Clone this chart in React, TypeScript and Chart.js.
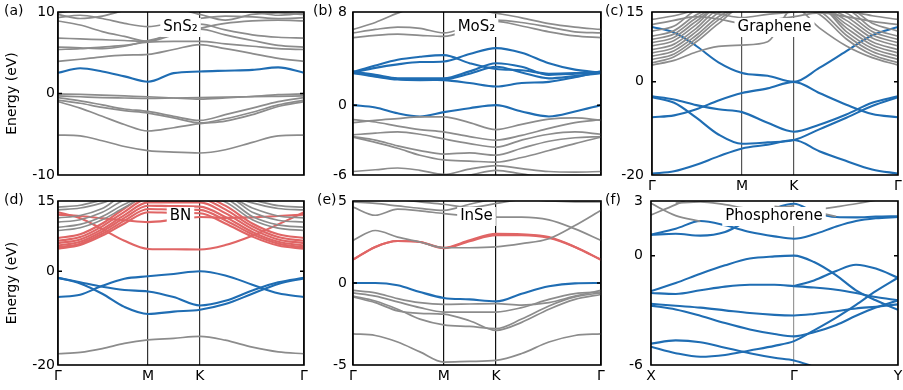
import React, { useEffect, useRef } from "react";
import { Chart, registerables } from "chart.js";

Chart.register(...registerables);

type Band = (number | null)[];

// ---------- k-paths ----------
const K_HEX = [0, 0.09, 0.18, 0.27, 0.366, 0.47, 0.577, 0.68, 0.79, 0.895, 1.0];
const K_HEX_TICKS = [0, 0.366, 0.577, 1];
const HEX_LABELS = ["Γ", "M", "K", "Γ"];
const K_RECT = [0, 0.1, 0.2, 0.3, 0.4, 0.5, 0.579, 0.66, 0.75, 0.83, 0.91, 1.0];
const K_RECT_TICKS = [0, 0.579, 1];
const RECT_LABELS = ["X", "Γ", "Y"];

// ---------- (a) SnS2 ----------
const SNS2_Y = [-10, 0, 10];
const SNS2_BLUE: Band[] = [[2.55, 3.1, 2.7, 2.1, 1.45, 2.5, 2.7, 2.8, 2.9, 3.2, 2.55]];
const SNS2_GRAY: Band[] = [
  [3.95, 4.2, 4.5, 4.7, 4.8, 5.4, 6.0, 5.5, 4.9, 4.3, 3.95],
  [5.4, 5.5, 5.7, 5.9, 6.3, 6.4, 6.4, 6.1, 5.8, 5.5, 5.4],
  [5.7, 5.6, 5.5, 5.8, 6.5, 7.2, 7.9, 7.2, 6.5, 5.9, 5.7],
  [6.8, 6.7, 6.6, 6.5, 6.4, 7.6, 8.5, 7.8, 7.2, 6.9, 6.8],
  [8.9, 8.4, 7.6, 7.0, 6.4, 7.2, 8.0, 8.6, 8.9, 9.0, 8.9],
  [9.3, 9.6, 9.2, 8.6, 8.2, 8.7, 9.2, 9.5, 9.4, 9.2, 9.3],
  [9.7, 9.2, 9.5, 10.2, 10.8, 10.5, 9.7, 9.0, 9.7, 9.9, 9.7],
  [9.9, 10.3, 10.6, 10.6, 10.4, 10.5, 10.3, 10.2, 10.0, 9.6, 9.9],
  [-0.05, -0.1, -0.2, -0.3, -0.4, -0.55, -0.7, -0.55, -0.35, -0.15, -0.05],
  [-0.3, -0.4, -0.5, -0.55, -0.6, -0.55, -0.5, -0.45, -0.4, -0.35, -0.3],
  [-0.5, -0.9, -1.4, -1.9, -2.2, -2.8, -3.3, -2.6, -1.8, -1.0, -0.5],
  [-0.8, -1.2, -1.7, -2.1, -2.4, -3.0, -3.6, -3.1, -2.3, -1.4, -0.8],
  [-1.0, -1.8, -2.8, -3.8, -4.6, -4.2, -3.7, -3.4, -2.6, -1.6, -1.0],
  [-5.1, -5.2, -5.8, -6.5, -7.0, -7.2, -7.3, -6.9, -6.0, -5.2, -5.1],
];

// ---------- (b) MoS2 ----------
const MOS2_Y = [-6, 0, 8];
const MOS2_BLUE: Band[] = [
  [0, -0.2, -0.7, -0.97, -0.6, -0.26, 0, -0.54, -0.97, -0.55, 0],
  [2.85, 3.4, 3.9, 4.15, 4.3, 3.6, 3.1, 3.0, 2.7, 2.75, 2.85],
  [2.8, 3.2, 3.5, 3.7, 3.75, 4.4, 4.9, 4.5, 3.6, 3.05, 2.8],
  [2.85, 2.6, 2.3, 2.3, 2.3, 2.9, 3.6, 3.3, 2.6, 2.7, 2.85],
  [2.75, 2.45, 2.2, 2.15, 2.2, 2.7, 3.3, 2.8, 2.3, 2.5, 2.75],
  [2.9, 2.5, 2.25, 2.2, 2.15, 1.9, 1.6, 1.9, 2.0, 2.4, 2.9],
];
const MOS2_GRAY: Band[] = [
  [6.5, 7.1, 7.9, 8.5, 8.5, 8.3, 7.9, 7.5, 7.0, 6.7, 6.5],
  [6.2, 6.5, 6.7, 6.6, 6.2, 6.8, 7.3, 7.1, 6.7, 6.3, 6.2],
  [5.8, 6.0, 6.1, 6.0, 5.9, 6.5, 7.2, 6.8, 6.3, 5.95, 5.8],
  [-1.5, -1.3, -1.15, -1.0, -1.0, -1.5, -2.1, -1.65, -1.2, -1.1, -1.3],
  [-1.25, -1.45, -1.8, -2.1, -2.3, -2.7, -3.0, -2.6, -2.0, -1.5, -1.25],
  [-2.55, -2.4, -2.3, -2.5, -2.9, -3.3, -3.6, -3.0, -2.5, -2.3, -2.5],
  [-2.7, -3.0, -3.5, -3.9, -4.2, -4.1, -4.3, -3.7, -3.1, -2.8, -2.7],
  [-2.75, -3.2, -3.7, -4.3, -4.7, -4.8, -4.9, -4.5, -3.9, -3.3, -2.75],
  [-5.7, -5.55, -5.4, -5.6, -5.95, -5.5, -5.2, -5.45, -5.7, -5.75, -5.7],
  [-6.3, -6.2, -6.1, -6.2, -6.3, -6.0, -5.6, -5.9, -6.2, -6.2, -6.3],
];

// ---------- (c) Graphene ----------
const GRAPHENE_Y = [-20, 0, 15];
const GRAPHENE_BLUE: Band[] = [
  [11.8, 10.6, 7.7, 4.2, 1.9, 1.3, 0, 3.0, 6.6, 10.0, 11.8],
  [-7.6, -7.2, -5.9, -4.0, -2.4, -1.4, 0, -2.4, -4.9, -6.9, -7.6],
  [-3.1, -3.8, -5.0, -5.9, -6.5, -8.8, -10.7, -9.2, -7.0, -4.5, -3.1],
  [-3.3, -4.5, -7.7, -11.3, -13.3, -13.0, -12.5, -10.2, -7.7, -5.2, -3.3],
  [-19.7, -19.2, -17.8, -16.0, -14.3, -13.5, -12.5, -14.9, -17.0, -18.8, -19.7],
];
const GRAPHENE_GRAY: Band[] = [
  [3.6, 4.6, 6.4, 7.6, 7.9, 8.6, 16, 11.6, 7.7, 5.2, 3.6],
  [4.1, 5.4, 8.6, 12.5, 16, 16, 16, 14.5, 9.2, 5.8, 4.1],
  [4.8, 6.0, 9.3, 13.3, 16, 16, 16, 15.2, 10.0, 6.5, 4.8],
  [5.5, 6.7, 10.0, 14.0, 16, 16, 16, 16, 10.8, 7.2, 5.5],
  [6.2, 7.4, 10.8, 14.8, 16, 16, 16, 16, 11.6, 7.9, 6.2],
  [6.9, 8.1, 11.5, 15.5, 16, 16, 16, 16, 12.4, 8.6, 6.9],
  [7.7, 8.9, 12.3, 16, 16, 16, 16, 16, 13.2, 9.4, 7.7],
  [8.4, 9.6, 13.0, 16, 16, 16, 16, 16, 14.0, 10.1, 8.4],
  [9.1, 10.3, 13.7, 16, 16, 16, 16, 16, 14.8, 10.8, 9.1],
  [9.8, 11.0, 14.4, 16, 16, 16, 16, 16, 15.6, 11.5, 9.8],
  [10.9, 12.0, 15.4, 16, 16, 16, 16, 16, 16, 12.6, 10.9],
  [12.3, 13.2, 14.0, 13.5, 12.6, 13.2, 14.0, 14.8, 14.0, 13.0, 12.3],
  [13.4, 14.2, 15.2, 14.6, 13.8, 14.5, 15.0, 16, 15.2, 14.2, 13.4],
];

// ---------- (d) BN ----------
const BN_Y = [-20, 0, 15];
const BN_BLUE: Band[] = [
  [-1.4, -2.35, -3.3, -4.0, -4.3, -5.5, -7.3, -6.3, -4.1, -2.35, -1.4],
  [-1.4, -2.6, -4.8, -7.6, -9.1, -8.6, -8.2, -7.0, -4.8, -2.7, -1.5],
  [-5.5, -5.0, -3.1, -1.6, -1.07, -0.57, 0, -0.9, -2.85, -4.7, -5.5],
];
const BN_RED: Band[] = [
  [4.8, 5.6, 7.6, 10.2, 12.6, 12.5, 12.4, 10.2, 7.4, 5.5, 4.8],
  [5.1, 5.9, 8.0, 10.8, 13.3, 13.2, 13.1, 10.9, 7.9, 5.9, 5.1],
  [5.5, 6.3, 8.5, 11.4, 14.0, 13.9, 13.8, 11.6, 8.4, 6.3, 5.5],
  [6.0, 6.8, 9.0, 12.0, 14.7, 14.7, 14.7, 12.4, 9.0, 6.8, 6.0],
  [6.5, 7.3, 9.6, 12.7, 15.5, 15.5, 15.5, 13.2, 9.6, 7.3, 6.5],
  [7.1, 7.9, 10.2, 13.4, 16, 16, 16, 14.0, 10.2, 7.9, 7.1],
  [12.1, 11.8, 11.3, 10.9, 10.5, 11.0, 11.6, 11.4, 11.5, 11.8, 12.1],
  [12.6, 11.3, 9.0, 6.5, 4.77, 4.7, 4.65, 5.6, 7.6, 10.0, 12.6],
];
const BN_GRAY: Band[] = [
  [8.7, 9.3, 11.0, 13.6, 16, 16, 16, 14.8, 11.0, 9.2, 8.7],
  [9.4, 10.0, 11.7, 14.3, 16, 16, 16, 15.5, 11.7, 9.9, 9.4],
  [10.5, 11.0, 12.6, 15.2, 16, 16, 16, 16, 12.6, 10.9, 10.5],
  [11.4, 11.9, 13.4, 16, 16, 16, 16, 16, 13.5, 11.8, 11.4],
  [13.1, 13.5, 14.6, 16, 16, 16, 16, 16, 14.6, 13.4, 13.1],
  [13.7, 14.1, 15.2, 16, 16, 16, 16, 16, 15.2, 14.0, 13.7],
  [-17.6, -17.3, -16.5, -15.4, -14.65, -14.3, -13.9, -14.7, -16.2, -17.2, -17.6],
];

// ---------- (e) InSe ----------
const INSE_Y = [-5, 0, 5];
const INSE_BLUE: Band[] = [[0, 0, -0.14, -0.55, -0.91, -1.0, -1.12, -0.65, -0.2, -0.02, 0]];
const INSE_RED: Band[] = [
  [1.42, 2.2, 2.56, 2.5, 2.15, 2.6, 3.0, 2.97, 2.8, 2.2, 1.42],
  [1.42, 2.2, 2.56, 2.5, 2.12, 2.55, 2.92, 2.92, 2.75, 2.2, 1.42],
];
const INSE_GRAY: Band[] = [
  [2.6, 3.2, 2.8, 2.5, 2.15, 2.15, 2.2, 2.4, 2.7, 3.5, 4.43],
  [4.63, 4.13, 4.5, 4.4, 4.23, 4.1, 4.02, 4.02, 3.85, 3.3, 2.6],
  [4.94, 4.85, 4.7, 4.55, 4.43, 4.8, 5.1, 5.1, 5.0, 4.95, 4.94],
  [5.3, 5.2, 5.1, 4.95, 4.8, 4.6, 4.85, 5.1, 5.2, 5.25, 5.3],
  [-0.45, -0.6, -0.95, -1.2, -1.3, -1.28, -1.26, -1.35, -1.2, -0.8, -0.45],
  [-0.6, -0.8, -1.15, -1.5, -1.77, -1.78, -1.77, -1.5, -1.0, -0.65, -0.55],
  [-0.8, -1.1, -1.6, -2.2, -2.55, -2.65, -2.78, -2.2, -1.4, -0.85, -0.6],
  [-0.85, -1.2, -1.7, -1.85, -1.9, -2.3, -2.89, -2.4, -1.6, -1.0, -0.7],
  [-3.1, -3.2, -3.6, -4.2, -4.82, -4.78, -4.72, -4.3, -3.6, -3.2, -3.1],
];

// ---------- (f) Phosphorene ----------
const PHOS_Y = [-6, 0, 3];
const PHOS_BLUE: Band[] = [
  [1.15, 1.48, 1.9, 1.67, 1.3, 1.06, 0.93, 1.17, 1.6, 1.9, 2.05, 2.12],
  [1.15, 1.2, 1.1, 1.3, 2.0, 2.6, 2.85, 2.4, 2.12, 2.1, 2.14, 2.16],
  [-1.94, -1.5, -0.99, -0.53, -0.16, -0.04, 0, -0.35, -1.08, -1.9, -2.45, -2.97],
  [-2.05, -2.1, -1.9, -1.7, -1.6, -1.6, -1.67, -1.75, -1.87, -2.05, -2.27, -2.45],
  [null, null, null, null, null, null, -1.67, -1.36, -0.84, -0.5, -0.71, -1.21],
  [-2.64, -2.75, -2.85, -3.0, -3.15, -3.25, -3.28, -3.2, -3.05, -2.9, -2.8, -2.67],
  [-2.74, -2.95, -3.3, -3.7, -4.05, -4.3, -4.43, -4.2, -3.8, -3.3, -2.85, -2.45],
  [-4.83, -4.65, -4.75, -5.05, -5.35, -5.6, -5.75, -6.1, null, null, null, null],
  [-5.0, -5.35, -5.55, -5.45, -5.2, -4.95, -4.69, -4.1, -3.4, -2.7, -1.95, -1.21],
];
const PHOS_GRAY: Band[] = [
  [2.23, 2.8, 3.4, null, null, null, null, null, null, null, null, null],
  [2.87, 2.2, 1.88, null, null, null, null, null, null, null, null, null],
  [null, 2.88, 2.95, 2.8, 2.6, 2.6, 2.75, null, null, null, null, null],
  [null, null, null, null, null, 2.7, 2.6, 2.42, 2.15, null, null, null],
  [null, null, null, null, null, 2.3, 2.35, 2.5, 2.68, 2.85, 3.05, 3.3],
];

// ---------- styling ----------
const FONT = "'DejaVu Sans', sans-serif";
const BLUE = "#1f6db3";
const RED = "#e06565";
const GRAY = "#8c8c8c";

Chart.defaults.font.family = FONT;

interface PanelSpec {
  tag: string;
  name: string;
  ks: number[];
  kTicks: number[];
  kLabels: string[];
  yTicks: number[];
  gray: Band[];
  red: Band[];
  blue: Band[];
  showX: boolean;
  yTitle: boolean;
  vColor: string;
  left: number;
  top: number;
  width: number;
  height: number;
  axisW: number;
  padR: number;
  tickPad: number;
  tagX: number;
}

const PANELS: PanelSpec[] = [
  { tag: "(a)", name: "SnS\u2082", ks: K_HEX, kTicks: K_HEX_TICKS, kLabels: HEX_LABELS, yTicks: SNS2_Y,
    gray: SNS2_GRAY, red: [], blue: SNS2_BLUE, showX: false, yTitle: true, vColor: "#222",
    left: 0, top: 0, width: 310, height: 200, axisW: 58, padR: 6, tickPad: 3, tagX: 4 },
  { tag: "(b)", name: "MoS\u2082", ks: K_HEX, kTicks: K_HEX_TICKS, kLabels: HEX_LABELS, yTicks: MOS2_Y,
    gray: MOS2_GRAY, red: [], blue: MOS2_BLUE, showX: false, yTitle: false, vColor: "#111",
    left: 303, top: 0, width: 305, height: 200, axisW: 50, padR: 7, tickPad: 6, tagX: 10 },
  { tag: "(c)", name: "Graphene", ks: K_HEX, kTicks: K_HEX_TICKS, kLabels: HEX_LABELS, yTicks: GRAPHENE_Y,
    gray: GRAPHENE_GRAY, red: [], blue: GRAPHENE_BLUE, showX: true, yTitle: false, vColor: "#555",
    left: 600, top: 0, width: 303, height: 200, axisW: 52, padR: 5, tickPad: 8, tagX: 5 },
  { tag: "(d)", name: "BN", ks: K_HEX, kTicks: K_HEX_TICKS, kLabels: HEX_LABELS, yTicks: BN_Y,
    gray: BN_GRAY, red: BN_RED, blue: BN_BLUE, showX: true, yTitle: true, vColor: "#333",
    left: 0, top: 189, width: 310, height: 201, axisW: 58, padR: 6, tickPad: 3, tagX: 4 },
  { tag: "(e)", name: "InSe", ks: K_HEX, kTicks: K_HEX_TICKS, kLabels: HEX_LABELS, yTicks: INSE_Y,
    gray: INSE_GRAY, red: INSE_RED, blue: INSE_BLUE, showX: true, yTitle: false, vColor: "#111",
    left: 303, top: 189, width: 305, height: 201, axisW: 50, padR: 7, tickPad: 6, tagX: 14 },
  { tag: "(f)", name: "Phosphorene", ks: K_RECT, kTicks: K_RECT_TICKS, kLabels: RECT_LABELS, yTicks: PHOS_Y,
    gray: PHOS_GRAY, red: [], blue: PHOS_BLUE, showX: true, yTitle: false, vColor: "#999",
    left: 600, top: 189, width: 303, height: 201, axisW: 51, padR: 5, tickPad: 8, tagX: 5 },
];

function PanelChart({ p }: { p: PanelSpec }) {
  const ref = useRef<HTMLCanvasElement>(null);

  useEffect(() => {
    const datasets: any[] = [];
    const add = (bands: Band[], color: string, width: number) => {
      bands.forEach((b) => {
        datasets.push({
          data: p.ks.map((x, i) => ({ x, y: b[i] })),
          borderColor: color,
          borderWidth: width,
          pointRadius: 0,
          fill: false,
          tension: 0.4,
          cubicInterpolationMode: "monotone",
          spanGaps: false,
        });
      });
    };
    add(p.gray, GRAY, 1.7);
    add(p.red, RED, 2.1);
    add(p.blue, BLUE, 2.1);

    const deco = {
      id: "deco",
      afterDatasetsDraw(chart: any) {
        const { ctx, chartArea: a } = chart;
        const ys = chart.scales.y;
        ctx.save();
        // material label with white box
        ctx.font = `15px ${FONT}`;
        const tw = ctx.measureText(p.name).width;
        const cx = a.left + 0.498 * (a.right - a.left);
        const cy = a.top + 15.5;
        ctx.fillStyle = "#fff";
        ctx.fillRect(cx - tw / 2 - 3, a.top + 6, tw + 6, 19);
        ctx.fillStyle = "#000";
        ctx.textAlign = "center";
        ctx.textBaseline = "middle";
        ctx.fillText(p.name, cx, cy);
        // inward ticks at zero
        const y0 = ys.getPixelForValue(0);
        ctx.strokeStyle = "#000";
        ctx.lineWidth = 1.5;
        ctx.beginPath();
        ctx.moveTo(a.left, y0);
        ctx.lineTo(a.left + 4, y0);
        ctx.moveTo(a.right, y0);
        ctx.lineTo(a.right - 4, y0);
        ctx.stroke();
        // frame
        ctx.lineWidth = 1.6;
        ctx.strokeRect(a.left, a.top, a.right - a.left, a.bottom - a.top);
        // panel tag
        ctx.font = `14px ${FONT}`;
        ctx.textAlign = "left";
        ctx.textBaseline = "middle";
        ctx.fillText(p.tag, p.tagX, a.top - 0.5);
        ctx.restore();
      },
    };

    const chart = new Chart(ref.current as HTMLCanvasElement, {
      type: "line",
      data: { datasets },
      options: {
        animation: false,
        responsive: false,
        maintainAspectRatio: false,
        events: [],
        layout: { padding: { top: 12, right: p.padR, left: 0, bottom: 0 } },
        plugins: { legend: { display: false }, tooltip: { enabled: false } },
        scales: {
          x: {
            type: "linear",
            min: 0,
            max: 1,
            afterBuildTicks: (s: any) => {
              s.ticks = p.kTicks.map((v) => ({ value: v }));
            },
            afterFit: (s: any) => {
              s.height = 25;
              s.paddingLeft = 0;
              s.paddingRight = 0;
            },
            ticks: {
              display: p.showX,
              autoSkip: false,
              maxRotation: 0,
              padding: 3,
              color: "#000",
              font: { family: FONT, size: 14 },
              callback: (_v: any, i: number) => p.kLabels[i],
            },
            grid: { color: p.vColor, lineWidth: 1.2, drawTicks: false },
            border: { display: false },
          },
          y: {
            type: "linear",
            min: p.yTicks[0],
            max: p.yTicks[p.yTicks.length - 1],
            afterBuildTicks: (s: any) => {
              s.ticks = p.yTicks.map((v) => ({ value: v }));
            },
            afterFit: (s: any) => {
              s.width = p.axisW;
              s.paddingTop = 0;
              s.paddingBottom = 0;
            },
            ticks: {
              autoSkip: false,
              padding: p.tickPad,
              color: "#000",
              font: { family: FONT, size: 14 },
              callback: (v: any) => String(v),
            },
            grid: { display: false, drawTicks: false },
            border: { display: false },
            title: {
              display: p.yTitle,
              text: "Energy (eV)",
              color: "#000",
              font: { family: FONT, size: 14 },
              padding: { top: 4, bottom: 0 },
            },
          },
        },
      } as any,
      plugins: [deco],
    });
    return () => chart.destroy();
  }, [p]);

  return (
    <canvas
      ref={ref}
      width={p.width}
      height={p.height}
      style={{ position: "absolute", left: p.left, top: p.top, width: p.width, height: p.height, display: "block" }}
    />
  );
}

export default function App() {
  return (
    <div style={{ position: "absolute", left: 0, top: 0, width: 903, height: 390, background: "#fff" }}>
      {PANELS.map((p) => (
        <PanelChart key={p.tag} p={p} />
      ))}
    </div>
  );
}
